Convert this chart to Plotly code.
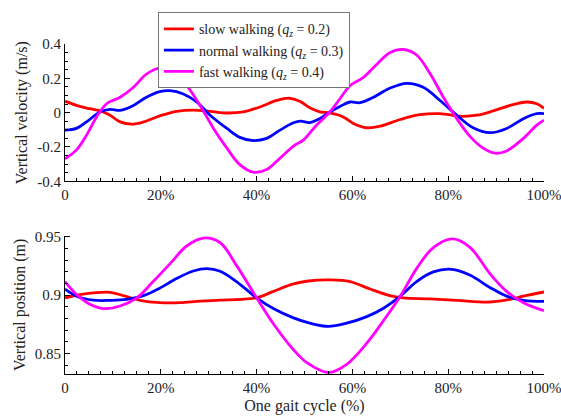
import plotly.graph_objects as go

# ---- data: vertical velocity (m/s) vs gait cycle (%) ----
slow_vel_x = [0, 3.1, 5.2, 7.3, 9.4, 11.5, 13.9, 16.4, 19.8, 23.3, 26.8, 30.3, 33.8, 37.2, 40.7, 44.2, 46.8,
              49.0, 51.1, 53.2, 55.3, 58.1, 60.2, 63.0, 65.8, 70.0, 74.1, 78.3, 82.5, 86.0, 89.4, 92.9, 96.4, 98.5, 100]
slow_vel_y = [0.067, 0.036, 0.023, 0.010, -0.015, -0.054, -0.067, -0.054, -0.019, 0.008, 0.015, 0.008, -0.002, 0.004,
              0.033, 0.071, 0.084, 0.066, 0.028, 0.005, -0.002, -0.025, -0.063, -0.088, -0.079, -0.040, -0.012,
              -0.006, -0.021, -0.015, 0.010, 0.042, 0.062, 0.052, 0.025]

normal_vel_x = [0, 2.4, 4.5, 7.3, 9.4, 11.5, 14.3, 17.0, 19.8, 21.9, 24.7, 27.5, 30.3, 33.8, 36.5, 39.3, 42.1, 44.9,
                47.7, 49.2, 51.1, 53.2, 55.3, 57.4, 59.5, 61.6, 64.4, 67.8, 71.3, 74.8, 78.3, 81.8, 85.2, 88.7,
                92.2, 95.7, 98.5, 100]
normal_vel_y = [-0.102, -0.092, -0.054, 0.004, 0.019, 0.013, 0.042, 0.090, 0.123, 0.128, 0.109, 0.062, -0.015, -0.092,
                -0.144, -0.163, -0.150, -0.102, -0.059, -0.050, -0.058, -0.035, 0.004, 0.036, 0.062, 0.058, 0.090,
                0.142, 0.171, 0.148, 0.071, -0.015, -0.088, -0.117, -0.092, -0.035, -0.006, -0.006]

fast_vel_x = [0, 2.4, 4.5, 6.6, 8.7, 11.5, 14.3, 17.0, 19.8, 22.6, 25.4, 28.2, 31.0, 33.8, 36.5, 39.3, 42.1, 44.9,
              47.7, 49.8, 52.5, 55.3, 57.4, 59.5, 62.3, 65.1, 67.8, 70.6, 73.4, 76.2, 79.0, 81.8, 84.6, 87.3,
              89.8, 92.2, 95.7, 98.5, 100]
fast_vel_y = [-0.269, -0.217, -0.131, -0.025, 0.052, 0.090, 0.148, 0.224, 0.259, 0.234, 0.157, 0.042, -0.092, -0.207,
              -0.303, -0.347, -0.332, -0.265, -0.195, -0.159, -0.073, 0.004, 0.081, 0.157, 0.205, 0.282, 0.349,
              0.368, 0.336, 0.228, 0.090, -0.035, -0.140, -0.207, -0.236, -0.223, -0.150, -0.073, -0.044]

# ---- data: vertical position (m) vs gait cycle (%) ----
slow_pos_x = [0, 3.1, 5.9, 9.4, 12.2, 15.7, 19.8, 24.0, 28.2, 32.4, 36.5, 40.0, 43.5, 47.7, 50.8, 55.3, 59.5,
              63.7, 67.8, 70.6, 76.2, 81.8, 88.7, 92.9, 95.7, 100]
slow_pos_y = [0.8978, 0.9006, 0.9020, 0.9025, 0.8997, 0.8956, 0.8936, 0.8936, 0.8950, 0.8958, 0.8964, 0.8978,
              0.9033, 0.9097, 0.9122, 0.9131, 0.9117, 0.9053, 0.8997, 0.8978, 0.8969, 0.8956, 0.8942, 0.8964,
              0.8992, 0.9028]

normal_pos_x = [0, 2.4, 5.9, 9.4, 12.9, 16.4, 19.8, 23.3, 26.8, 29.6, 32.4, 35.8, 40.0, 43.5, 47.7, 51.1, 55.0,
                58.8, 63.0, 66.5, 70.0, 73.4, 76.9, 80.7, 84.6, 88.7, 92.2, 95.7, 100]
normal_pos_y = [0.9053, 0.8992, 0.8958, 0.8956, 0.8964, 0.8997, 0.9061, 0.9144, 0.9208, 0.9228, 0.9206, 0.9117,
                0.8978, 0.8886, 0.8806, 0.8761, 0.8733, 0.8761, 0.8817, 0.8889, 0.8992, 0.9117, 0.9200, 0.9222,
                0.9172, 0.9067, 0.8992, 0.8956, 0.8947]

fast_pos_x = [0, 2.4, 5.2, 8.0, 11.5, 15.0, 18.4, 21.9, 25.4, 28.9, 32.4, 35.8, 40.0, 43.5, 47.7, 50.5, 55.0,
              58.8, 63.0, 66.5, 70.0, 73.4, 76.9, 81.0, 84.6, 88.7, 92.2, 95.7, 100]
fast_pos_y = [0.9117, 0.9006, 0.8922, 0.8886, 0.8908, 0.8978, 0.9117, 0.9269, 0.9422, 0.9490, 0.9450, 0.9256,
              0.8978, 0.8756, 0.8533, 0.8422, 0.8338, 0.8408, 0.8589, 0.8783, 0.8992, 0.9228, 0.9408, 0.9483,
              0.9408, 0.9186, 0.9033, 0.8936, 0.8867]

series_names = ["slow walking (<i>q<sub>z</sub></i> = 0.2)",
                "normal walking (<i>q<sub>z</sub></i> = 0.3)",
                "fast walking (<i>q<sub>z</sub></i> = 0.4)"]
colors = ["#ff0000", "#0000ff", "#ff00ff"]

x_tickvals = [0, 20, 40, 60, 80, 100]
x_ticktext = ["0", "20%", "40%", "60%", "80%", "100%"]
vel_tickvals = [-0.4, -0.2, 0, 0.2, 0.4]
vel_ticktext = ["-0.4", "-0.2", "0", "0.2", "0.4"]
pos_tickvals = [0.85, 0.9, 0.95]
pos_ticktext = ["0.85", "0.9", "0.95"]

FONT = "Liberation Serif"
TXT = "#222"

fig = go.Figure()
vel = [(slow_vel_x, slow_vel_y), (normal_vel_x, normal_vel_y), (fast_vel_x, fast_vel_y)]
pos = [(slow_pos_x, slow_pos_y), (normal_pos_x, normal_pos_y), (fast_pos_x, fast_pos_y)]
for i, (xs, ys) in enumerate(vel):
    fig.add_trace(go.Scatter(x=xs, y=ys, mode="lines", name=series_names[i],
                             line=dict(color=colors[i], width=2.8, shape="spline", smoothing=1.0),
                             xaxis="x", yaxis="y", showlegend=True))
for i, (xs, ys) in enumerate(pos):
    fig.add_trace(go.Scatter(x=xs, y=ys, mode="lines", name=series_names[i],
                             line=dict(color=colors[i], width=2.8, shape="spline", smoothing=1.0),
                             xaxis="x2", yaxis="y2", showlegend=False))

axis_common = dict(showline=True, linecolor="black", linewidth=1, mirror=False, showgrid=False,
                   zeroline=False, ticks="inside", tickcolor="black", ticklen=5, automargin=False,
                   ticklabeloverflow="allow",
                   tickfont=dict(family=FONT, size=15, color=TXT))

x_minor = dict(dtick=2.5, tick0=0, ticks="inside", ticklen=3, tickcolor="black")

fig.update_layout(
    width=561, height=419,
    margin=dict(l=65, r=17, t=40, b=45),
    paper_bgcolor="white", plot_bgcolor="white",
    font=dict(family=FONT, color=TXT),
    xaxis=dict(domain=[0, 1], range=[0, 100], anchor="y", tickmode="array",
               tickvals=x_tickvals, ticktext=x_ticktext, minor=x_minor, **axis_common),
    yaxis=dict(domain=[0.584, 1], range=[-0.4, 0.4], anchor="x", tickmode="array",
               tickvals=vel_tickvals, ticktext=vel_ticktext,
               minor=dict(dtick=0.05, tick0=0, ticks="inside", ticklen=3, tickcolor="black"),
               title=dict(text="Vertical velocity (m/s)", font=dict(family=FONT, size=16, color=TXT), standoff=5),
               **axis_common),
    xaxis2=dict(domain=[0, 1], range=[0, 100], anchor="y2", tickmode="array",
                tickvals=x_tickvals, ticktext=x_ticktext, minor=x_minor,
                title=dict(text="One gait cycle (%)", font=dict(family=FONT, size=16, color=TXT), standoff=4),
                **axis_common),
    yaxis2=dict(domain=[0, 0.419], range=[0.8325, 0.951], anchor="x2", tickmode="array",
                tickvals=pos_tickvals, ticktext=pos_ticktext,
                minor=dict(dtick=0.01, tick0=0.8, ticks="inside", ticklen=3, tickcolor="black"),
                title=dict(text="Vertical position (m)", font=dict(family=FONT, size=16, color=TXT), standoff=5),
                **axis_common),
    legend=dict(x=0.194, y=1.096, xanchor="left", yanchor="top",
                bgcolor="white", bordercolor="#777", borderwidth=1,
                font=dict(family=FONT, size=14, color=TXT),
                tracegroupgap=0, itemwidth=30),
)

fig.write_html("out.html", config={"displayModeBar": False},
               post_script="document.body.style.margin='0';document.body.style.padding='0';")
